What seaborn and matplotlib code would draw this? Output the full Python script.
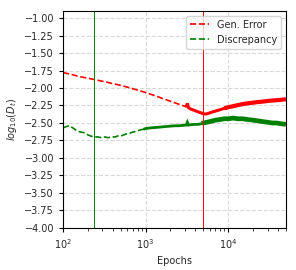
import matplotlib
matplotlib.use("Agg")
import matplotlib.pyplot as plt
import seaborn as sns
import pandas as pd

epochs = [100, 110, 120, 135, 150, 165, 180, 200, 220, 240, 265, 290, 320, 350, 390,
          430, 470, 520, 570, 630, 700, 770, 850, 940, 1000, 1150, 1300, 1450, 1600,
          1800, 2000, 2250, 2500, 2800, 3100, 3200, 3300, 3500, 3900, 4300, 4800, 5000,
          5500, 6000, 7000, 8000, 9000, 10000, 11500, 13000, 15000, 17000, 20000, 23000,
          26000, 30000, 34000, 38000, 43000, 50000]

gen_error = [-1.78, -1.79, -1.80, -1.815, -1.83, -1.84, -1.85, -1.86, -1.87, -1.88,
             -1.89, -1.90, -1.91, -1.92, -1.935, -1.945, -1.955, -1.97, -1.98, -1.995,
             -2.01, -2.025, -2.04, -2.055, -2.065, -2.09, -2.11, -2.13, -2.15, -2.17,
             -2.19, -2.21, -2.23, -2.25, -2.27, -2.22, -2.28, -2.30, -2.32, -2.34,
             -2.36, -2.37, -2.37, -2.355, -2.33, -2.31, -2.29, -2.275, -2.26, -2.245,
             -2.23, -2.22, -2.21, -2.20, -2.195, -2.185, -2.18, -2.175, -2.17, -2.16]

discrepancy = [-2.57, -2.55, -2.54, -2.58, -2.62, -2.63, -2.64, -2.67, -2.69, -2.70,
               -2.70, -2.71, -2.70, -2.71, -2.70, -2.70, -2.68, -2.68, -2.66, -2.65,
               -2.63, -2.62, -2.60, -2.59, -2.58, -2.57, -2.565, -2.56, -2.555, -2.55,
               -2.545, -2.54, -2.54, -2.535, -2.53, -2.49, -2.53, -2.525, -2.52, -2.52,
               -2.51, -2.50, -2.49, -2.48, -2.46, -2.45, -2.44, -2.44, -2.43, -2.44,
               -2.44, -2.45, -2.46, -2.47, -2.48, -2.49, -2.50, -2.50, -2.51, -2.52]

vline_epochs = [240, 5000]
vline_colors = ["green", "red"]

sns.set_style("whitegrid", {"grid.linestyle": "--", "grid.color": "#d9d9d9",
                            "axes.edgecolor": "black", "xtick.bottom": True,
                            "ytick.left": True})
plt.rcParams["font.family"] = ["DejaVu Sans"]

df = pd.DataFrame({"Epochs": epochs, "Gen. Error": gen_error, "Discrepancy": discrepancy})

fig, ax = plt.subplots(figsize=(2.96, 2.70), dpi=100)

# sparse (early) part: dashed; dense (late) part: looks solid and thick
red_segments = [(100, 3300, "--", 1.2), (3100, 10000, "-", 2.2), (9000, 50000, "-", 3.0)]
green_segments = [(100, 1000, "--", 1.2), (940, 5000, "-", 2.0), (4800, 50000, "-", 3.4)]

for i, (a, b, ls, lw) in enumerate(red_segments):
    sub = df[(df["Epochs"] >= a) & (df["Epochs"] <= b)]
    sns.lineplot(data=sub, x="Epochs", y="Gen. Error", ax=ax, color="red",
                 linestyle=ls, linewidth=lw, solid_capstyle="butt",
                 solid_joinstyle="miter",
                 label="Gen. Error" if i == 0 else None)
for i, (a, b, ls, lw) in enumerate(green_segments):
    sub = df[(df["Epochs"] >= a) & (df["Epochs"] <= b)]
    sns.lineplot(data=sub, x="Epochs", y="Discrepancy", ax=ax, color="green",
                 linestyle=ls, linewidth=lw, solid_capstyle="butt",
                 solid_joinstyle="miter",
                 label="Discrepancy" if i == 0 else None)

for xv, c in zip(vline_epochs, vline_colors):
    ax.axvline(xv, color=c, linewidth=0.7)

ax.set_xscale("log")
ax.set_xlim(100, 50000)
ax.set_ylim(-4.0, -0.9)
ax.set_yticks([-4.0 + 0.25 * i for i in range(13)])
ax.tick_params(axis="both", labelsize=7, length=3, width=0.8, color="black")
ax.tick_params(axis="x", which="minor", length=2, width=0.6, bottom=True)
ax.set_xlabel("Epochs", fontsize=7)
ax.set_ylabel(r"$log_{10}(D_t)$", fontsize=7)
for s in ax.spines.values():
    s.set_linewidth(0.8)
ax.legend(loc="upper right", fontsize=7, frameon=True)
plt.subplots_adjust(left=0.213, right=0.966, top=0.959, bottom=0.156)
fig.savefig("out.png", dpi=100)
